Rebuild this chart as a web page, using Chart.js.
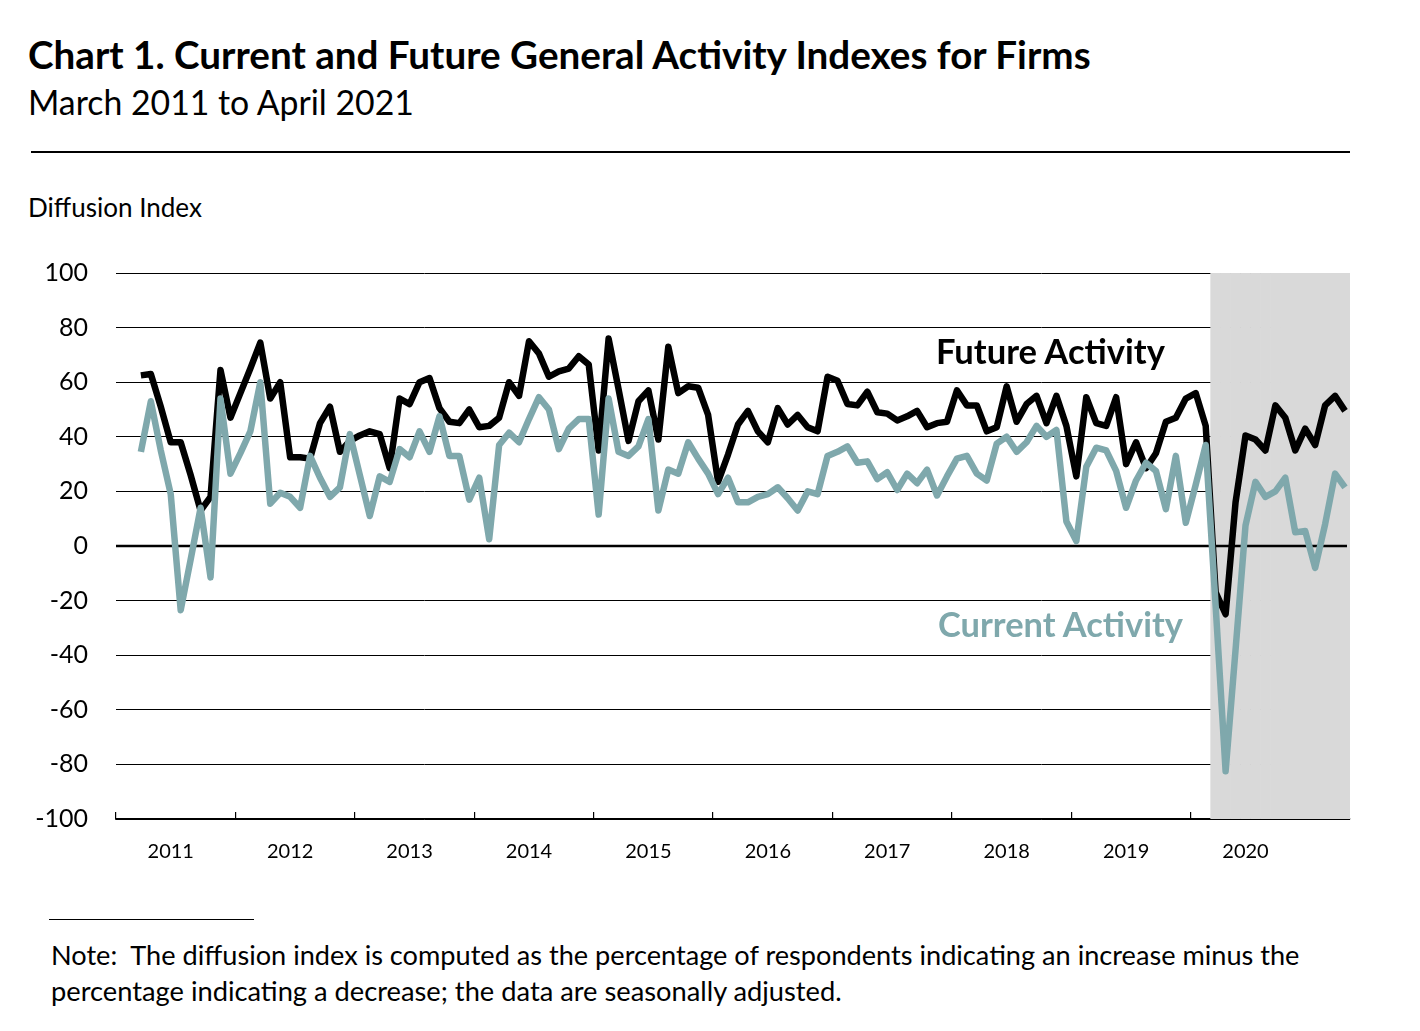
<!DOCTYPE html>
<html>
<head>
<meta charset="utf-8">
<script src="https://cdn.jsdelivr.net/npm/chart.js@4.4.1/dist/chart.umd.min.js"></script>
<style>
  html, body { margin:0; padding:0; background:#fff; }
  body { width:1420px; height:1031px; position:relative; overflow:hidden; font-family: Lato, "Open Sans", sans-serif; color:#000; }
  .txt { position:absolute; white-space:nowrap; line-height:1; }
  #title { font-weight:700; }
  .lbl { font-weight:700; }
  #rule1 { position:absolute; left:31px; top:151px; width:1319px; height:2px; background:#000; }
  #rule2 { position:absolute; left:49px; top:919px; width:205px; height:1px; background:#000; }
  #chartWrap { position:absolute; left:0; top:230px; width:1420px; height:650px; }
</style>
</head>
<body>
<div id="title" class="txt" data-w="1063" data-base="69.5">Chart 1. Current and Future General Activity Indexes for Firms</div>
<div id="subtitle" class="txt" data-w="386" data-base="116">March 2011 to April 2021</div>
<div id="rule1"></div>
<div id="yTitle" class="txt" data-w="174" data-base="217.3">Diffusion Index</div>
<div id="chartWrap"><canvas id="c" width="1420" height="650" style="width:1420px;height:650px"></canvas></div>
<div id="futLbl" class="txt lbl" data-w="229" data-base="365">Future Activity</div>
<div id="curLbl" class="txt lbl" data-w="245" data-base="638" style="color:#7fa8ac">Current Activity</div>
<div id="rule2"></div>
<div id="note1" class="txt" data-w="1249" data-base="965">Note:&nbsp; The diffusion index is computed as the percentage of respondents indicating an increase minus the</div>
<div id="note2" class="txt" data-w="791" data-base="1001">percentage indicating a decrease; the data are seasonally adjusted.</div>
<script>
// ---------------- DATA ----------------
const yearLabels = ['2011','2012','2013','2014','2015','2016','2017','2018','2019','2020'];
const monthNames = ['Jan','Feb','Mar','Apr','May','Jun','Jul','Aug','Sep','Oct','Nov','Dec'];
const firstYear = 2011;
const lastYear = 2021;
const lastMonthOfLastYear = 4;   // April 2021
const shadeStartLabel = 'Mar 2020';

// Jan 2011 ... Apr 2021 (Jan/Feb 2011 have no data)
const futureActivity = [
  null, null, 62.5, 63, 51, 38, 38, 26, 13, 18, 64.5, 47,
  56, 65, 74.5, 54, 60, 32.5, 32.5, 32, 45, 51, 34.5, 38.5,
  40.5, 42, 41, 28.5, 54, 52, 60, 61.5, 50.5, 45.5, 45, 50,
  43.5, 44, 47, 60, 55, 75, 70.5, 62, 64, 65, 69.5, 66.5,
  35, 76, 57.5, 38.5, 53, 57, 39, 73, 56, 58.5, 58, 48,
  23.5, 33.5, 44.5, 49.5, 42, 38, 50.5, 44.5, 48, 43.5, 42, 62,
  60.5, 52, 51.5, 56.5, 49, 48.5, 46, 47.5, 49.5, 43.5, 45, 45.5,
  57, 51.5, 51.5, 42, 43.5, 58.5, 45.5, 52, 55, 45, 55, 44,
  25.5, 54.5, 45, 44, 54.5, 30, 38, 28.5, 34, 45.5, 47, 54,
  56, 44, -17, -25, 16, 40.5, 39, 35, 51.5, 47, 35, 43,
  37, 51.5, 55, 49.5
];
const currentActivity = [
  null, null, 34.5, 53, 35, 19, -23.5, -5, 14, -11.5, 54, 26.5,
  34, 42, 60, 15.5, 19.5, 18, 14, 33, 25, 18, 21.5, 41,
  26, 11, 25.5, 23.5, 35.5, 32.5, 42, 34.5, 47.5, 33, 33, 17,
  25, 2.5, 37, 41.5, 38, 46.5, 54.5, 50, 35.5, 43, 46.5, 46.5,
  11.5, 54, 34.5, 33, 36.5, 46.5, 13, 28, 26.5, 38, 32, 26.5,
  19, 25, 16, 16, 18, 19, 21.5, 17.5, 13, 20, 19, 33,
  34.5, 36.5, 30.5, 31, 24.5, 27, 20.5, 26.5, 23, 28, 18.5, 25.5,
  32, 33, 26.5, 24, 37.5, 40, 34.5, 38, 44, 40, 42.5, 9,
  1.8, 29, 36, 35, 27.5, 14, 24, 30.5, 27.5, 13.5, 33, 8.5,
  22.5, 37, -22, -82.5, -38, 7.5, 23.5, 18, 20, 25, 5, 5.5,
  -8, 8, 26.5, 21.5
];
const yMin = -100, yMax = 100, yStep = 20;

// ---------------- BUILD ----------------
const categories = [];
for (let y = firstYear; y <= lastYear; y++) {
  const mEnd = (y === lastYear) ? lastMonthOfLastYear : 12;
  for (let m = 0; m < mEnd; m++) categories.push(monthNames[m] + ' ' + y);
}
const shadeIdx = categories.indexOf(shadeStartLabel);
const shadeData = categories.map((c, i) => i >= shadeIdx ? [yMin, yMax] : null);

// ---------------- TEXT FITTING ----------------
function fitText() {
  document.querySelectorAll('.txt[data-w]').forEach(el => {
    const target = parseFloat(el.dataset.w);
    el.style.fontSize = '30px';
    const w = el.getBoundingClientRect().width;
    el.style.fontSize = (30 * target / w) + 'px';
  });
  document.querySelectorAll('.txt').forEach(el => {
    const s = parseFloat(el.style.fontSize);
    const base = parseFloat(el.dataset.base);
    el.style.top = (base - 0.887 * s) + 'px';
  });
  const pos = { title:28, subtitle:28, yTitle:28, futLbl:936, curLbl:938, note1:51, note2:51 };
  Object.keys(pos).forEach(id => document.getElementById(id).style.left = pos[id] + 'px');
}
fitText();

// ---------------- CHART ----------------
const zeroLinePlugin = {
  id: 'zeroLine',
  beforeDatasetDraw(chart, args) {
    if (args.index !== 1) return;
    const y = chart.scales.y.getPixelForValue(0);
    const ctx = chart.ctx;
    ctx.save();
    ctx.strokeStyle = '#000';
    ctx.lineWidth = 2.5;
    ctx.beginPath();
    ctx.moveTo(chart.chartArea.left, y);
    ctx.lineTo(chart.chartArea.right - 3, y);
    ctx.stroke();
    ctx.restore();
  }
};

Chart.defaults.font.family = 'Lato, "Open Sans", sans-serif';
Chart.defaults.color = '#000';

new Chart(document.getElementById('c'), {
  data: {
    labels: categories,
    datasets: [
      {
        type: 'bar',
        label: 'shade',
        data: shadeData,
        backgroundColor: '#d9d9d9',
        borderWidth: 0,
        barPercentage: 1,
        categoryPercentage: 1,
        order: 3
      },
      {
        type: 'line',
        label: 'Future Activity',
        data: futureActivity,
        borderColor: '#000000',
        borderWidth: 6.5,
        pointRadius: 0,
        tension: 0,
        borderJoinStyle: 'round',
        spanGaps: false,
        order: 2
      },
      {
        type: 'line',
        label: 'Current Activity',
        data: currentActivity,
        borderColor: '#7fa8ac',
        borderWidth: 6.5,
        pointRadius: 0,
        tension: 0,
        borderJoinStyle: 'round',
        spanGaps: false,
        order: 1
      }
    ]
  },
  options: {
    responsive: false,
    animation: false,
    devicePixelRatio: 1,
    layout: { padding: { left: 0, right: 70, top: 41, bottom: 0 } },
    plugins: { legend: { display: false }, tooltip: { enabled: false } },
    scales: {
      x: {
        type: 'category',
        offset: true,
        z: 1,
        afterFit: (s) => { s.height = 61; },
        border: { display: true, color: '#000', width: 1.5 },
        grid: {
          offset: true,
          drawOnChartArea: false,
          drawTicks: true,
          tickLength: -7,
          lineWidth: 1.2,
          color: (ctx) => (ctx.index % 12 === 0 && ctx.index < categories.length) ? '#000' : 'rgba(0,0,0,0)'
        },
        ticks: {
          autoSkip: false,
          maxRotation: 0,
          minRotation: 0,
          padding: 28,
          labelOffset: 0,
          font: { size: 20 },
          color: '#000',
          callback: (v, i) => (i % 12 === 5 && yearLabels[Math.floor(i / 12)]) ? yearLabels[Math.floor(i / 12)] : ''
        }
      },
      y: {
        min: yMin,
        max: yMax,
        afterFit: (s) => { s.width = 116; },
        border: { display: false },
        grid: { color: '#000', lineWidth: 1, drawTicks: false },
        ticks: { stepSize: yStep, padding: 28, font: { size: 25 }, color: '#000' }
      }
    }
  },
  plugins: [zeroLinePlugin]
});
</script>
</body>
</html>
